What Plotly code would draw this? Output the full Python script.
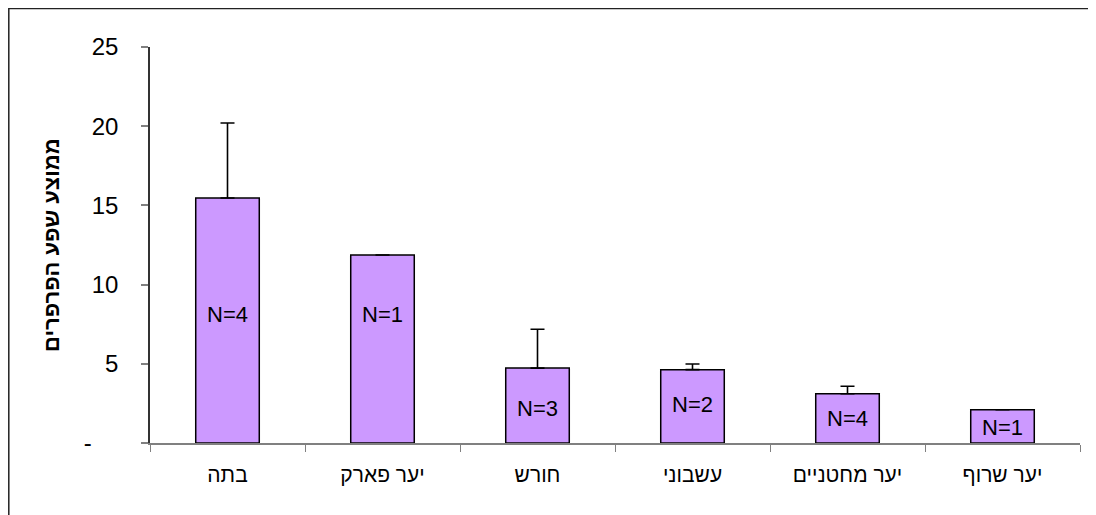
import plotly.graph_objects as go

categories = ["בתה", "יער פארק", "חורש", "עשבוני", "יער מחטניים", "יער שרוף"]
means = [15.47, 11.87, 4.73, 4.63, 3.11, 2.10]
errors = [4.73, 0.0, 2.45, 0.36, 0.47, 0.0]
n_labels = ["N=4", "N=1", "N=3", "N=2", "N=4", "N=1"]
n_label_y = [8.1, 8.1, 2.2, 2.4, 1.55, 0.95]
y_tickvals = [0, 5, 10, 15, 20, 25]
y_ticktext = ["-\u00a0\u00a0\u00a0\u00a0", "5", "10", "15", "20", "25"]
y_title = "ממוצע שפע הפרפרים"

FONT = "Arial, Liberation Sans, sans-serif"

fig = go.Figure()
fig.add_trace(go.Bar(
    x=categories,
    y=means,
    width=0.41,
    marker=dict(color="#CC99FF", line=dict(color="black", width=1.5)),
    error_y=dict(type="data", array=errors, arrayminus=[0] * len(errors),
                 symmetric=False, color="black", thickness=1.6, width=7),
    showlegend=False,
    hoverinfo="skip",
))

for c, t, yy in zip(categories, n_labels, n_label_y):
    fig.add_annotation(x=c, y=yy, text=t, showarrow=False,
                       font=dict(family=FONT, size=22, color="black"))

fig.add_annotation(xref="paper", yref="paper", x=-0.1065, y=0.5, text="<b>" + y_title + "</b>",
                   textangle=-90, showarrow=False, xanchor="center", yanchor="middle",
                   font=dict(family=FONT, size=22, color="black"))

# outer chart frame
fig.add_shape(type="rect", xref="paper", yref="paper",
              x0=-141.2 / 930, x1=945.3 / 930, y0=-0.2, y1=434.6 / 396,
              line=dict(color="#222222", width=1.5))

fig.update_layout(
    width=1088, height=507,
    margin=dict(l=142, r=16, t=39, b=72),
    paper_bgcolor="white", plot_bgcolor="white",
    font=dict(family=FONT, color="black"),
    bargap=0.59,
)
fig.update_xaxes(
    type="category", showline=True, linecolor="#808080", linewidth=1.5,
    ticks="outside", tickson="boundaries", ticklen=7, tickcolor="#808080", tickwidth=1,
    tickfont=dict(family=FONT, size=21, color="black"),
    ticklabelstandoff=12, showgrid=False, zeroline=False,
)
fig.update_yaxes(
    range=[0, 25], tickvals=y_tickvals, ticktext=y_ticktext,
    showline=True, linecolor="#333333", linewidth=1.5,
    ticks="outside", ticklen=7, tickcolor="#808080", tickwidth=1.5,
    tickfont=dict(family=FONT, size=24, color="black"),
    ticklabelstandoff=18, showgrid=False, zeroline=False,
)

fig.write_html("out.html")
